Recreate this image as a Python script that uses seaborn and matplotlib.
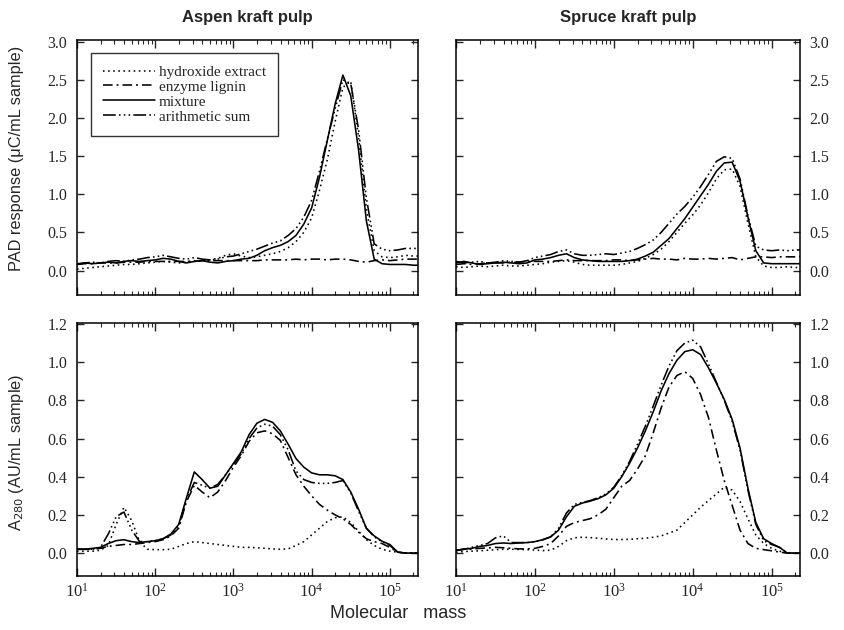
import numpy as np
import pandas as pd
import matplotlib
matplotlib.use("Agg")
import matplotlib.pyplot as plt
import seaborn as sns
from matplotlib.ticker import FixedLocator, FuncFormatter, NullFormatter, LogLocator

# ---------------- data ----------------
log_mass = [1.0, 1.1, 1.2, 1.3, 1.4, 1.5, 1.6, 1.7, 1.8, 1.9,
            2.0, 2.1, 2.2, 2.3, 2.4, 2.5, 2.6, 2.7, 2.8, 2.9,
            3.0, 3.1, 3.2, 3.3, 3.4, 3.5, 3.6, 3.7, 3.8, 3.9,
            4.0, 4.1, 4.2, 4.3, 4.4, 4.5, 4.6, 4.7, 4.8, 4.9,
            5.0, 5.1, 5.2, 5.3, 5.4]

series_names = ["hydroxide extract", "enzyme lignin", "mixture", "arithmetic sum"]
panel_titles = ["Aspen kraft pulp", "Spruce kraft pulp"]

# PAD response, aspen
pad_aspen_hydroxide = [0.02, 0.03, 0.04, 0.05, 0.06, 0.07, 0.08, 0.08, 0.09, 0.10,
                       0.11, 0.12, 0.11, 0.10, 0.11, 0.13, 0.12, 0.14, 0.16, 0.20,
                       0.22, 0.19, 0.17, 0.18, 0.20, 0.22, 0.25, 0.30, 0.38, 0.50,
                       0.69, 1.05, 1.45, 1.95, 2.40, 2.48, 1.75, 0.80, 0.26, 0.18,
                       0.17, 0.18, 0.20, 0.19, 0.19]
pad_aspen_enzyme = [0.08, 0.09, 0.09, 0.10, 0.10, 0.10, 0.11, 0.11, 0.11, 0.12,
                    0.12, 0.12, 0.12, 0.12, 0.12, 0.12, 0.13, 0.13, 0.13, 0.13,
                    0.13, 0.13, 0.13, 0.13, 0.14, 0.14, 0.14, 0.14, 0.15, 0.14,
                    0.15, 0.15, 0.14, 0.15, 0.15, 0.14, 0.12, 0.11, 0.13, 0.14,
                    0.13, 0.14, 0.15, 0.15, 0.15]
pad_aspen_mixture = [0.08, 0.10, 0.09, 0.10, 0.11, 0.10, 0.12, 0.13, 0.12, 0.13,
                     0.14, 0.16, 0.15, 0.12, 0.10, 0.12, 0.13, 0.11, 0.10, 0.12,
                     0.13, 0.15, 0.16, 0.20, 0.26, 0.30, 0.33, 0.38, 0.46, 0.61,
                     0.82, 1.22, 1.70, 2.18, 2.56, 2.29, 1.58, 0.65, 0.15, 0.09,
                     0.08, 0.08, 0.08, 0.07, 0.07]
pad_aspen_sum = [0.09, 0.10, 0.11, 0.10, 0.12, 0.13, 0.12, 0.14, 0.15, 0.17,
                 0.18, 0.20, 0.18, 0.16, 0.15, 0.17, 0.15, 0.14, 0.15, 0.18,
                 0.19, 0.22, 0.25, 0.28, 0.32, 0.36, 0.39, 0.46, 0.55, 0.70,
                 0.92, 1.30, 1.72, 2.12, 2.50, 2.45, 1.85, 0.95, 0.35, 0.28,
                 0.26, 0.27, 0.29, 0.29, 0.29]

# PAD response, spruce
pad_spruce_hydroxide = [0.05, 0.04, 0.05, 0.06, 0.05, 0.06, 0.07, 0.06, 0.06, 0.07,
                        0.08, 0.09, 0.11, 0.12, 0.13, 0.11, 0.08, 0.07, 0.07, 0.07,
                        0.07, 0.08, 0.10, 0.12, 0.16, 0.21, 0.28, 0.38, 0.50, 0.62,
                        0.73, 0.86, 1.02, 1.20, 1.32, 1.33, 1.10, 0.62, 0.18, 0.06,
                        0.04, 0.04, 0.05, 0.04, 0.04]
pad_spruce_enzyme = [0.08, 0.09, 0.08, 0.09, 0.10, 0.10, 0.10, 0.11, 0.11, 0.12,
                     0.12, 0.12, 0.12, 0.13, 0.14, 0.13, 0.13, 0.13, 0.13, 0.13,
                     0.14, 0.14, 0.13, 0.14, 0.15, 0.16, 0.15, 0.15, 0.14, 0.16,
                     0.15, 0.15, 0.16, 0.15, 0.16, 0.17, 0.14, 0.16, 0.18, 0.18,
                     0.17, 0.18, 0.18, 0.18, 0.18]
pad_spruce_mixture = [0.10, 0.12, 0.10, 0.08, 0.09, 0.10, 0.11, 0.10, 0.09, 0.10,
                      0.14, 0.15, 0.17, 0.20, 0.22, 0.17, 0.14, 0.13, 0.12, 0.12,
                      0.12, 0.12, 0.13, 0.15, 0.19, 0.24, 0.33, 0.42, 0.55, 0.68,
                      0.83, 0.98, 1.13, 1.30, 1.41, 1.42, 1.17, 0.70, 0.26, 0.10,
                      0.09, 0.09, 0.09, 0.09, 0.09]
pad_spruce_sum = [0.12, 0.10, 0.11, 0.12, 0.10, 0.11, 0.13, 0.12, 0.11, 0.13,
                  0.17, 0.19, 0.21, 0.25, 0.27, 0.22, 0.20, 0.20, 0.21, 0.22,
                  0.21, 0.23, 0.25, 0.29, 0.34, 0.40, 0.50, 0.62, 0.74, 0.84,
                  0.96, 1.10, 1.26, 1.43, 1.49, 1.47, 1.20, 0.72, 0.32, 0.27,
                  0.26, 0.27, 0.26, 0.27, 0.27]

# A280, aspen
a280_aspen_hydroxide = [0.01, 0.01, 0.01, 0.015, 0.04, 0.15, 0.24, 0.17, 0.06, 0.02,
                        0.018, 0.018, 0.02, 0.035, 0.05, 0.06, 0.055, 0.05, 0.045, 0.04,
                        0.035, 0.03, 0.03, 0.028, 0.025, 0.022, 0.02, 0.022, 0.04, 0.06,
                        0.095, 0.13, 0.165, 0.185, 0.19, 0.16, 0.115, 0.07, 0.04, 0.02,
                        0.01, 0.005, 0.0, 0.0, 0.0]
a280_aspen_enzyme = [0.02, 0.02, 0.02, 0.025, 0.035, 0.04, 0.045, 0.045, 0.05, 0.055,
                     0.06, 0.07, 0.09, 0.13, 0.27, 0.355, 0.32, 0.29, 0.32, 0.38,
                     0.45, 0.51, 0.585, 0.63, 0.64, 0.625, 0.59, 0.50, 0.41, 0.35,
                     0.30, 0.255, 0.225, 0.20, 0.18, 0.15, 0.11, 0.075, 0.06, 0.05,
                     0.03, 0.005, 0.0, 0.0, 0.0]
a280_aspen_mixture = [0.02, 0.02, 0.025, 0.03, 0.05, 0.065, 0.07, 0.06, 0.055, 0.06,
                      0.065, 0.075, 0.10, 0.15, 0.29, 0.425, 0.385, 0.34, 0.35, 0.41,
                      0.47, 0.53, 0.62, 0.68, 0.70, 0.685, 0.64, 0.57, 0.495, 0.45,
                      0.42, 0.41, 0.41, 0.405, 0.385, 0.32, 0.23, 0.13, 0.09, 0.062,
                      0.045, 0.005, 0.0, 0.0, 0.0]
a280_aspen_sum = [0.02, 0.02, 0.02, 0.03, 0.10, 0.19, 0.215, 0.12, 0.06, 0.06,
                  0.065, 0.075, 0.095, 0.14, 0.28, 0.37, 0.355, 0.34, 0.36, 0.41,
                  0.465, 0.52, 0.60, 0.655, 0.675, 0.665, 0.62, 0.54, 0.43, 0.385,
                  0.37, 0.365, 0.365, 0.37, 0.38, 0.315, 0.22, 0.13, 0.085, 0.06,
                  0.04, 0.005, 0.0, 0.0, 0.0]

# A280, spruce
a280_spruce_hydroxide = [0.005, 0.008, 0.01, 0.012, 0.015, 0.018, 0.02, 0.02, 0.019, 0.018,
                         0.016, 0.013, 0.015, 0.035, 0.065, 0.08, 0.083, 0.081, 0.078, 0.074,
                         0.071, 0.071, 0.072, 0.075, 0.078, 0.083, 0.09, 0.105, 0.12, 0.16,
                         0.20, 0.24, 0.275, 0.31, 0.345, 0.33, 0.27, 0.18, 0.095, 0.05,
                         0.025, 0.01, 0.0, 0.0, 0.0]
a280_spruce_enzyme = [0.015, 0.02, 0.02, 0.025, 0.027, 0.03, 0.028, 0.025, 0.022, 0.022,
                      0.025, 0.035, 0.05, 0.09, 0.14, 0.16, 0.17, 0.18, 0.20, 0.23,
                      0.29, 0.35, 0.38, 0.44, 0.51, 0.63, 0.76, 0.87, 0.93, 0.95,
                      0.915, 0.83, 0.71, 0.54, 0.38, 0.25, 0.12, 0.05, 0.025, 0.018,
                      0.012, 0.005, 0.0, 0.0, 0.0]
a280_spruce_mixture = [0.015, 0.02, 0.025, 0.035, 0.04, 0.05, 0.053, 0.05, 0.053, 0.055,
                       0.06, 0.07, 0.085, 0.12, 0.19, 0.245, 0.262, 0.272, 0.285, 0.305,
                       0.34, 0.40, 0.47, 0.55, 0.64, 0.74, 0.85, 0.94, 1.01, 1.055,
                       1.065, 1.04, 0.97, 0.89, 0.805, 0.70, 0.55, 0.34, 0.16, 0.075,
                       0.05, 0.03, 0.0, 0.0, 0.0]
a280_spruce_sum = [0.015, 0.02, 0.03, 0.04, 0.05, 0.08, 0.09, 0.055, 0.055, 0.055,
                   0.06, 0.07, 0.085, 0.13, 0.21, 0.255, 0.265, 0.275, 0.29, 0.31,
                   0.345, 0.405, 0.48, 0.57, 0.665, 0.77, 0.88, 0.98, 1.06, 1.10,
                   1.115, 1.08, 0.99, 0.895, 0.80, 0.69, 0.54, 0.33, 0.15, 0.065,
                   0.045, 0.03, 0.0, 0.0, 0.0]

x_tick_exponents = [1, 2, 3, 4, 5]
pad_ticks = [0.0, 0.5, 1.0, 1.5, 2.0, 2.5, 3.0]
a280_ticks = [0.0, 0.2, 0.4, 0.6, 0.8, 1.0, 1.2]

# ---------------- style ----------------
sns.set_style("ticks")
plt.rcParams["font.family"] = ["Liberation Sans", "DejaVu Sans"]
plt.rcParams["axes.linewidth"] = 1.1

line_styles = {
    "hydroxide extract": (0, (1, 2.2)),
    "enzyme lignin": (0, (6, 2.5, 1.2, 2.5)),
    "mixture": "-",
    "arithmetic sum": (0, (8, 2, 1, 2, 1, 2, 1, 2)),
}

panels = {
    (0, 0): [pad_aspen_hydroxide, pad_aspen_enzyme, pad_aspen_mixture, pad_aspen_sum],
    (0, 1): [pad_spruce_hydroxide, pad_spruce_enzyme, pad_spruce_mixture, pad_spruce_sum],
    (1, 0): [a280_aspen_hydroxide, a280_aspen_enzyme, a280_aspen_mixture, a280_aspen_sum],
    (1, 1): [a280_spruce_hydroxide, a280_spruce_enzyme, a280_spruce_mixture, a280_spruce_sum],
}

W, H = 844, 630
fig = plt.figure(figsize=(W / 100, H / 100), dpi=100)

def px_axes(x0, y0, x1, y1):
    return fig.add_axes([x0 / W, 1 - y1 / H, (x1 - x0) / W, (y1 - y0) / H])

axes = {
    (0, 0): px_axes(77, 40, 418, 295),
    (0, 1): px_axes(456, 40, 800, 295),
    (1, 0): px_axes(77, 323, 418, 576),
    (1, 1): px_axes(456, 323, 800, 576),
}

mass = 10 ** np.array(log_mass)
serif = ["Liberation Serif", "DejaVu Serif"]

for (r, c), ax in axes.items():
    ax.set_xscale("log")
    df = pd.DataFrame({"mass": mass})
    for name, vals in zip(series_names, panels[(r, c)]):
        df[name] = vals
    for name in series_names:
        sns.lineplot(data=df, x="mass", y=name, ax=ax, color="black",
                     linewidth=1.15, linestyle=line_styles[name],
                     errorbar=None, sort=True,
                     label=name if (r, c) == (0, 0) else None)
    ax.set_xlim(10, 10 ** 5.36)
    if r == 0:
        ax.set_ylim(-0.32, 3.02)
        ax.yaxis.set_major_locator(FixedLocator(pad_ticks))
    else:
        ax.set_ylim(-0.12, 1.205)
        ax.yaxis.set_major_locator(FixedLocator(a280_ticks))
    ax.yaxis.set_major_formatter(FuncFormatter(lambda v, p: f"{v:.1f}"))
    ax.xaxis.set_major_locator(FixedLocator([10.0 ** e for e in x_tick_exponents]))
    ax.xaxis.set_minor_locator(LogLocator(base=10, subs=np.arange(2, 10), numticks=20))
    ax.xaxis.set_minor_formatter(NullFormatter())
    if r == 1:
        ax.xaxis.set_major_formatter(FuncFormatter(lambda v, p: r"$\mathregular{10^{%d}}$" % round(np.log10(v))))
    else:
        ax.xaxis.set_major_formatter(NullFormatter())
    ax.set_xlabel("")
    ax.set_ylabel("")
    ax.tick_params(axis="x", which="major", direction="in", top=True, bottom=True,
                   length=6, width=1.0, pad=5, labelsize=12)
    ax.tick_params(axis="x", which="minor", direction="in", top=True, bottom=True,
                   length=3, width=0.8)
    ax.tick_params(axis="y", which="major", direction="in", left=True, right=True,
                   length=5, width=1.0, labelsize=11.5, pad=7,
                   labelleft=(c == 0), labelright=(c == 1))
    for lab in ax.get_xticklabels() + ax.get_yticklabels():
        lab.set_fontfamily(serif)
    for sp in ax.spines.values():
        sp.set_visible(True)
        sp.set_color("black")
        sp.set_linewidth(1.1)
    if (r, c) == (0, 0):
        leg = ax.legend(loc="upper left", bbox_to_anchor=(0.041, 0.949),
                        frameon=True, fancybox=False, handlelength=3.4,
                        handletextpad=0.25, labelspacing=0.08, borderpad=0.8,
                        borderaxespad=0.0, prop={"family": serif, "size": 11})
        leg.get_frame().set_edgecolor("black")
        leg.get_frame().set_linewidth(1.0)
    else:
        lg = ax.get_legend()
        if lg is not None:
            lg.remove()
    if r == 0:
        ax.set_title(panel_titles[c], fontsize=12, fontweight="bold", pad=13)

fig.text(17 / W, 1 - 158 / H, "PAD response (\u03bcC/mL sample)", rotation=90,
         ha="center", va="center", fontsize=11.8)
fig.text(17 / W, 1 - 452 / H, r"A$_{280}$ (AU/mL sample)", rotation=90,
         ha="center", va="center", fontsize=11.8)
fig.text(398 / W, 1 - 613 / H, "Molecular   mass", ha="center", va="center", fontsize=13)

fig.savefig("out.png", dpi=100)
